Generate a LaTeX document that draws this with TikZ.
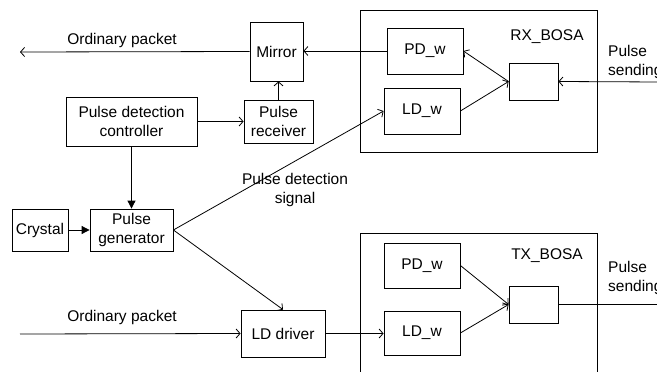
\documentclass[tikz,border=0pt]{standalone}
\usepackage{fontspec}
\setmainfont{Liberation Sans}
\usetikzlibrary{arrows.meta}

\begin{document}
\begin{tikzpicture}[
x=1pt, y=-1pt,
font=\fontsize{15.5}{19}\selectfont,
blk/.style={rectangle, draw, line width=0.8pt, inner sep=0pt, align=center},
bosa/.style={rectangle, draw, line width=0.8pt, inner sep=0pt},
lbl/.style={inner sep=0pt, align=center},
sig/.style={line width=0.8pt, -{Straight Barb[length=4pt,width=9pt]}},
feed/.style={line width=0.8pt, -{Triangle[length=8pt,width=8pt]}},
wire/.style={line width=0.8pt},
]
\useasboundingbox (0,0) rectangle (657,372);

% Optical modules (drawn first, boxes go on top)
\node[bosa, minimum width=237pt, minimum height=142pt] (rxbosa) at (478.5,81) {};
\node[bosa, minimum width=237pt, minimum height=157pt] (txbosa) at (478.5,311.5) {};
\node[lbl] (rxname) at (547,37) {RX\_BOSA};
\node[lbl] (txname) at (547,256) {TX\_BOSA};

% Receive side
\node[blk, minimum width=76pt, minimum height=46pt] (rxpd) at (425,51) {PD\_w};
\node[blk, minimum width=76pt, minimum height=46pt] (rxld) at (422,111) {LD\_w};
\node[blk, minimum width=49pt, minimum height=37pt] (rxsplit) at (533.5,81.5) {};

% Transmit side
\node[blk, minimum width=76pt, minimum height=45pt] (txpd) at (422,265.5) {PD\_w};
\node[blk, minimum width=76pt, minimum height=44pt] (txld) at (422,333) {LD\_w};
\node[blk, minimum width=49pt, minimum height=37pt] (txsplit) at (533.5,304.5) {};

% Control blocks
\node[blk, minimum width=53pt, minimum height=59pt] (mirror) at (276.5,51.5) {Mirror};
\node[blk, minimum width=69pt, minimum height=43pt] (recv) at (278.5,121.5) {Pulse\\receiver};
\node[blk, minimum width=131pt, minimum height=49pt] (ctrl) at (131.5,121.5) {Pulse detection\\controller};
\node[blk, minimum width=56pt, minimum height=42pt] (crystal) at (40,230) {Crystal};
\node[blk, minimum width=83pt, minimum height=42pt] (pgen) at (131.5,230) {Pulse\\generator};
\node[blk, minimum width=84pt, minimum height=47pt] (lddrv) at (283,333.5) {LD driver};

% Free ends
\coordinate (outpkt) at (20,52);
\coordinate (inpkt) at (20,334);
\coordinate (rxfiber) at (660,82);
\coordinate (txfiber) at (660,304.5);

% Labels
\node[lbl] (outtxt) at (122,40) {Ordinary packet};
\node[lbl] (intxt) at (122,317) {Ordinary packet};
\node[lbl] (dettxt) at (295,190) {Pulse detection\\signal};
\node[lbl, anchor=west, align=left] (rxsend) at (608,62) {Pulse\\sending};
\node[lbl, anchor=west, align=left] (txsend) at (608,278) {Pulse\\sending};

% Connections
\draw[sig] (mirror.west) -- (outpkt);
\draw[sig] (rxpd.west) -- (rxpd.west -| mirror.east);
\draw[sig] (recv.north) -- (recv.north |- mirror.south);
\draw[sig] (ctrl.east) -- (recv.west);
\draw[feed] (ctrl.south) -- (pgen.north);
\draw[feed] (crystal.east) -- (pgen.west);
\draw[sig] (pgen.east) -- (rxld.west);
\draw[sig] (pgen.east) -- (lddrv.north);
\draw[sig] (inpkt) -- (lddrv.west);
\draw[sig] (lddrv.east) -- (lddrv.east -| txld.west);
\draw[sig] (rxsplit.west) -- (rxpd.east);
\draw[sig] (rxld.east) -- (rxsplit.west);
\draw[sig] (rxfiber) -- (rxsplit.east);
\draw[sig] (txpd.east) -- (txsplit.west);
\draw[sig] (txld.east) -- (txsplit.west);
\draw[wire] (txsplit.east) -- (txfiber);

\end{tikzpicture}
\end{document}
